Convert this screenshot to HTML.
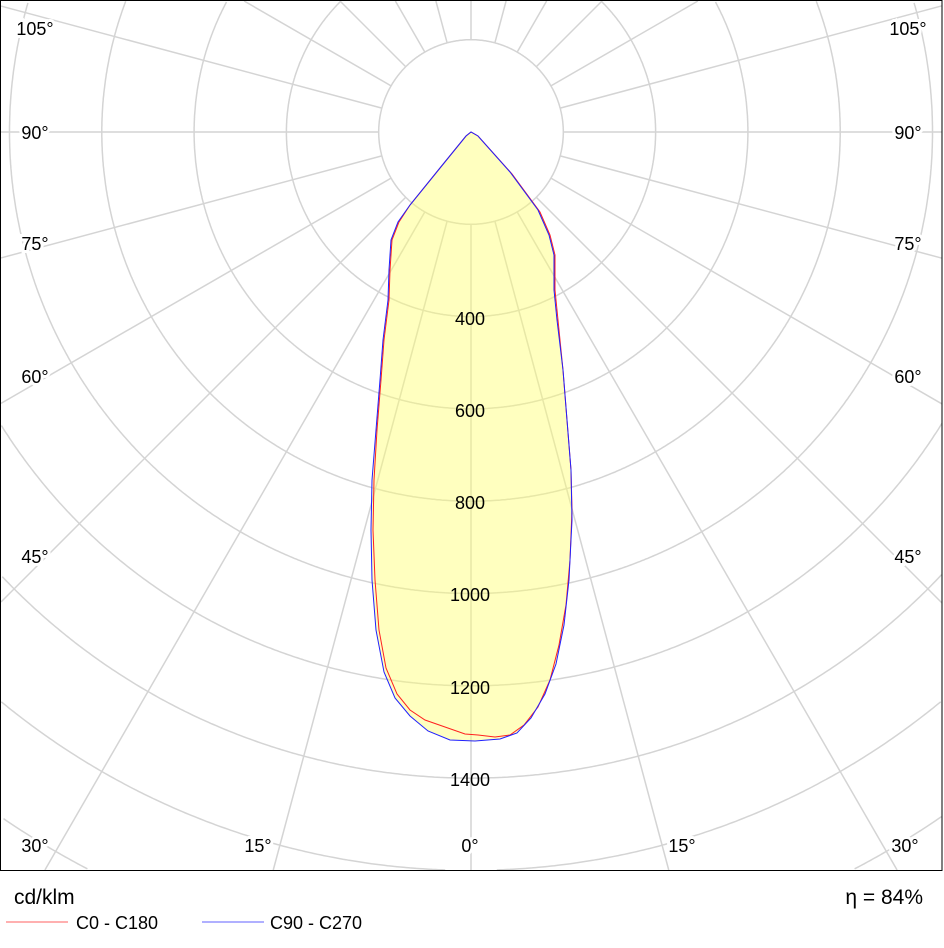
<!DOCTYPE html>
<html><head><meta charset="utf-8"><style>
html,body{margin:0;padding:0;background:#fff;width:944px;height:948px;overflow:hidden;font-family:"Liberation Sans",sans-serif}
svg{display:block}
</style></head><body>
<svg id="s" width="944" height="948" xmlns="http://www.w3.org/2000/svg" font-family="Liberation Sans, sans-serif">
<g id="grid" stroke="#d4d4d4" stroke-width="1.5" fill="none"></g>
<path fill="#ffff70" fill-opacity="0.45" d="M471,132 L466,136 L440,168 L410,205 L398,222 L391,240 L389,270 L388,300 L383,340 L380,380 L376,430 L372,480 L371,530 L372,580 L376,630 L384,672 L395,698 L410,716 L428,731 L450,740 L475,741 L500,739 L517,733 L531,718 L545,694 L556,664 L564,625 L569,580 L572,520 L571,470 L567,420 L563,370 L557,320 L554,290 L554,255 L549,235 L538,210 L510,172 L478,136 Z"/>
<path fill="none" stroke="#ff2020" stroke-width="1" d="M471,132 L466,136 L440,168 L410,205 L399,222 L392,240 L390,270 L389,300 L384,340 L381,380 L377,430 L374,480 L373,530 L375,580 L379,630 L386,668 L397,694 L410,710 L425,720 L445,727 L465,734 L478,735 L495,737 L510,735 L524,725 L538,707 L550,680 L559,645 L566,605 L570,560 L572,510 L571,470 L567,420 L563,370 L558,320 L555,290 L555,255 L550,235 L540,212 L512,174 L478,136 Z"/>
<path fill="none" stroke="#2020ff" stroke-width="1" d="M471,132 L466,136 L440,168 L410,205 L398,222 L391,240 L389,270 L388,300 L383,340 L380,380 L376,430 L372,480 L371,530 L372,580 L376,630 L384,672 L395,698 L410,716 L428,731 L450,740 L475,741 L500,739 L517,733 L531,718 L545,694 L556,664 L564,625 L569,580 L572,520 L571,470 L567,420 L563,370 L557,320 L554,290 L554,255 L549,235 L538,210 L510,172 L478,136 Z"/>
<g id="lab" font-size="18" fill="#000"></g>
<rect x="0.5" y="0.5" width="941.5" height="870" fill="none" stroke="#000" stroke-width="1"/>
<text x="14" y="904" font-size="21">cd/klm</text>
<text x="923" y="904" font-size="21" text-anchor="end">η = 84%</text>
<line x1="6" y1="922" x2="68" y2="922" stroke="#ffb0b0" stroke-width="2"/>
<text x="76" y="929" font-size="18">C0 - C180</text>
<line x1="202" y1="922" x2="264" y2="922" stroke="#b0b0ff" stroke-width="2"/>
<text x="270" y="929" font-size="18">C90 - C270</text>
</svg>
<script>
var ns="http://www.w3.org/2000/svg",g=document.getElementById("grid"),L=document.getElementById("lab");
var cx=471,cy=132,u=92.3,X0=1,X1=942,Y0=1,Y1=870;
function inside(x,y){return x>=X0&&x<=X1&&y>=Y0&&y<=Y1;}
for(var k=1;k<=12;k++){var r=u*k,segs=[],cur=[];
 for(var i=0;i<=1440;i++){var t=i/1440*2*Math.PI,x=cx+r*Math.sin(t),y=cy+r*Math.cos(t);
  if(inside(x,y))cur.push(x.toFixed(1)+","+y.toFixed(1));else{if(cur.length>1)segs.push(cur);cur=[];}}
 if(cur.length>1)segs.push(cur);
 segs.forEach(function(s){var p=document.createElementNS(ns,"polyline");p.setAttribute("points",s.join(" "));g.appendChild(p);});}
for(var a=0;a<360;a+=15){var t=a*Math.PI/180,dx=Math.sin(t),dy=Math.cos(t),tm=1e9;
 if(dx>1e-9)tm=Math.min(tm,(X1-cx)/dx);if(dx<-1e-9)tm=Math.min(tm,(X0-cx)/dx);
 if(dy>1e-9)tm=Math.min(tm,(Y1-cy)/dy);if(dy<-1e-9)tm=Math.min(tm,(Y0-cy)/dy);
 var l=document.createElementNS(ns,"line");
 l.setAttribute("x1",cx+u*dx);l.setAttribute("y1",cy+u*dy);
 l.setAttribute("x2",cx+tm*dx);l.setAttribute("y2",cy+tm*dy);g.appendChild(l);}
function T(x,y,s,anc,st){var b=document.createElementNS(ns,"text");b.setAttribute("x",x);b.setAttribute("y",y);if(anc)b.setAttribute("text-anchor",anc);b.textContent=s;
 if(st){b.setAttribute("stroke","#fff");b.setAttribute("stroke-width","6");b.setAttribute("paint-order","stroke");}L.appendChild(b);}
var yl=[["105°",35],["90°",139],["75°",250],["60°",383],["45°",563]];
yl.forEach(function(p){T(35,p[1],p[0],"middle",1);T(908,p[1],p[0],"middle",1);});
[["30°",35],["15°",258],["0°",470],["15°",682],["30°",905]].forEach(function(p){T(p[1],852,p[0],"middle",1);});
[["400",325],["600",417],["800",509],["1000",601],["1200",694],["1400",786]].forEach(function(p){T(470,p[1],p[0],"middle",0);});
</script>
</body></html>
